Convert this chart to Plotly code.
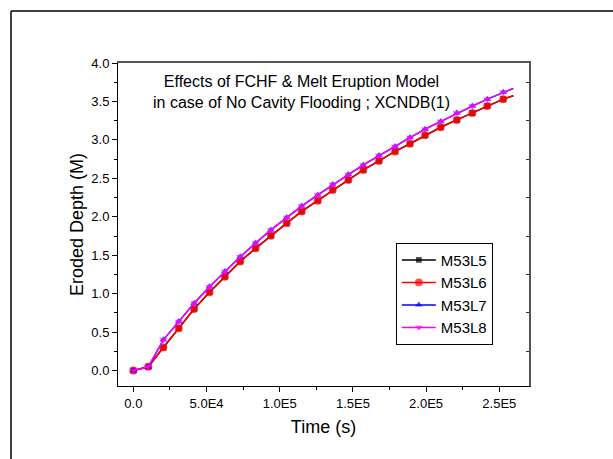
import plotly.graph_objects as go

# --- data ---
time_s = [0, 1.02e4, 2.05e4, 3.1e4, 4.15e4, 5.2e4, 6.25e4, 7.3e4, 8.35e4, 9.4e4,
          1.048e5, 1.15e5, 1.26e5, 1.362e5, 1.469e5, 1.571e5, 1.678e5, 1.788e5,
          1.89e5, 1.993e5, 2.1e5, 2.21e5, 2.316e5, 2.418e5, 2.527e5, 2.596e5]
m53l6 = [0.0, 0.05, 0.30, 0.55, 0.80, 1.02, 1.22, 1.42, 1.59, 1.755, 1.917, 2.07,
         2.21, 2.35, 2.48, 2.61, 2.727, 2.85, 2.95, 3.06, 3.165, 3.26, 3.35, 3.44,
         3.53, 3.575]
m53l5 = list(m53l6)
m53l8 = [0.0, 0.05, 0.40, 0.64, 0.876, 1.09, 1.29, 1.48, 1.66, 1.83, 1.99, 2.14,
         2.285, 2.42, 2.55, 2.675, 2.796, 2.913, 3.03, 3.14, 3.24, 3.35, 3.44, 3.53,
         3.62, 3.67]
m53l7 = list(m53l8)

series_names = ["M53L5", "M53L6", "M53L7", "M53L8"]
series_vals = [m53l5, m53l6, m53l7, m53l8]
colors = ["#000000", "#ff0000", "#0000ff", "#ff00ff"]
symbols = ["square", "circle", "triangle-up", "triangle-down"]
msizes = [6, 8, 7, 7]

x_tickvals = [0, 5e4, 1e5, 1.5e5, 2e5, 2.5e5]
x_ticktext = ["0.0", "5.0E4", "1.0E5", "1.5E5", "2.0E5", "2.5E5"]
y_tickvals = [0, 0.5, 1, 1.5, 2, 2.5, 3, 3.5, 4]
y_ticktext = ["0.0", "0.5", "1.0", "1.5", "2.0", "2.5", "3.0", "3.5", "4.0"]
right_ticks = [0.25, 0.75, 1.25, 1.75, 2.25, 2.75, 3.25, 3.75]

FONT = "Liberation Sans, Arial, sans-serif"

fig = go.Figure()
for name, vals, c, s, ms in zip(series_names, series_vals, colors, symbols, msizes):
    n = len(time_s)
    sizes = [ms] * (n - 1) + [0]
    fig.add_trace(go.Scatter(
        x=time_s, y=vals, name=name, mode="lines+markers",
        line=dict(color=c, width=1.5),
        marker=dict(symbol=s, color=c, size=sizes, line=dict(width=0)),
    ))

# invisible trace for secondary axes
fig.add_trace(go.Scatter(x=[0], y=[0], xaxis="x2", yaxis="y2", showlegend=False,
                         mode="markers", marker=dict(opacity=0), hoverinfo="skip"))

fig.update_layout(
    width=613, height=459,
    margin=dict(l=118, r=84, t=63, b=73),
    paper_bgcolor="white", plot_bgcolor="white",
    font=dict(family=FONT, color="black", size=13),
    xaxis=dict(
        range=[-1.05e4, 2.703e5], showgrid=False, zeroline=False,
        showline=True, linecolor="black", linewidth=1,
        ticks="outside", ticklen=5, tickcolor="black", tickwidth=1,
        tickmode="array", tickvals=x_tickvals, ticktext=x_ticktext,
        tickfont=dict(size=13, family=FONT),
        minor=dict(ticks="outside", ticklen=3, dtick=2.5e4, tick0=0,
                   tickcolor="black", showgrid=False),
        title=dict(text="Time (s)", font=dict(size=18, family=FONT), standoff=10),
    ),
    yaxis=dict(
        range=[-0.2, 4.0], showgrid=False, zeroline=False,
        showline=True, linecolor="black", linewidth=1,
        ticks="outside", ticklen=5, tickcolor="black", tickwidth=1,
        tickmode="array", tickvals=y_tickvals, ticktext=y_ticktext,
        tickfont=dict(size=13, family=FONT),
        minor=dict(ticks="outside", ticklen=3, dtick=0.25, tick0=0,
                   tickcolor="black", showgrid=False),
        title=dict(text="Eroded Depth (M)", font=dict(size=18, family=FONT), standoff=3),
    ),
    xaxis2=dict(
        overlaying="x", side="top", range=[-1.05e4, 2.703e5],
        showline=True, linecolor="#555555", linewidth=2,
        ticks="", showticklabels=False, showgrid=False, zeroline=False,
    ),
    yaxis2=dict(
        overlaying="y", side="right", range=[-0.2, 4.0],
        showline=True, linecolor="#555555", linewidth=2,
        ticks="inside", ticklen=3, tickcolor="#333333",
        tickmode="array", tickvals=right_ticks,
        showticklabels=False, showgrid=False, zeroline=False,
    ),
    legend=dict(
        x=0.676, y=0.4437, xanchor="left", yanchor="top",
        bordercolor="black", borderwidth=1, bgcolor="white",
        font=dict(size=15, family=FONT), itemwidth=34,
        tracegroupgap=0,
    ),
    showlegend=True,
)

fig.add_annotation(
    text="Effects of FCHF &amp; Melt Eruption Model<br>in case of No Cavity Flooding ; XCNDB(1)",
    xref="paper", yref="paper", x=0.4465, y=0.975, xanchor="center", yanchor="top",
    showarrow=False, font=dict(size=16, family=FONT, color="black"), align="center",
)

# outer frame (left and top edges)
fig.add_shape(type="line", xref="paper", yref="paper",
              x0=(11 - 118) / 411, x1=(11 - 118) / 411, y0=-0.3, y1=(386 - 11) / 323,
              line=dict(color="black", width=1.5))
fig.add_shape(type="line", xref="paper", yref="paper",
              x0=(11 - 118) / 411, x1=1.3, y0=(386 - 11) / 323, y1=(386 - 11) / 323,
              line=dict(color="black", width=1.5))

fig.write_html("out.html")
